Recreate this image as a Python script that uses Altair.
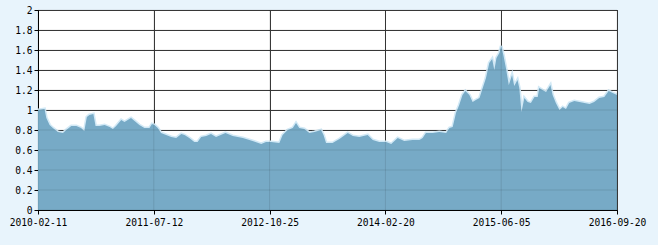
import altair as alt
import pandas as pd

# trading-day index and value
day_index = [0, 18, 23, 32, 41, 55, 69, 78, 92, 106, 119, 128, 135, 142, 153, 159, 170, 184, 198, 207,
             216, 230, 239, 248, 257, 267, 280, 294, 308, 315, 322, 331, 340, 354, 368, 382, 396, 405, 418, 432,
             441, 451, 465, 478, 492, 518, 538, 566, 593, 617, 630, 644, 667, 676, 690, 704, 713, 722, 736, 750,
             764, 782, 789, 796, 814, 833, 856, 870, 888, 911, 925, 943, 962, 976, 994, 1012, 1035, 1054, 1063, 1072,
             1091, 1109, 1128, 1137, 1146, 1155, 1164, 1173, 1181, 1192, 1201, 1210, 1220, 1229, 1238, 1247, 1255, 1261, 1267, 1275,
             1280, 1286, 1293, 1301, 1310, 1316, 1325, 1330, 1336, 1344, 1353, 1362, 1372, 1381, 1385, 1394, 1404, 1416, 1422, 1431,
             1441, 1450, 1459, 1468, 1482, 1496, 1510, 1524, 1537, 1551, 1565, 1577, 1588, 1600]
values = [1.00, 1.01, 0.92, 0.85, 0.82, 0.78, 0.77, 0.80, 0.84, 0.84, 0.82, 0.79, 0.93, 0.95, 0.96, 0.84, 0.84, 0.85, 0.83, 0.81,
          0.84, 0.90, 0.88, 0.90, 0.92, 0.89, 0.85, 0.82, 0.82, 0.86, 0.85, 0.82, 0.77, 0.75, 0.73, 0.72, 0.76, 0.75, 0.72, 0.68,
          0.68, 0.73, 0.74, 0.76, 0.73, 0.77, 0.74, 0.72, 0.69, 0.66, 0.68, 0.68, 0.67, 0.75, 0.80, 0.82, 0.87, 0.82, 0.81, 0.77,
          0.78, 0.80, 0.75, 0.67, 0.67, 0.71, 0.77, 0.74, 0.73, 0.75, 0.70, 0.68, 0.68, 0.66, 0.72, 0.69, 0.70, 0.70, 0.72, 0.77,
          0.77, 0.78, 0.77, 0.82, 0.83, 0.97, 1.05, 1.15, 1.19, 1.15, 1.08, 1.10, 1.12, 1.22, 1.32, 1.47, 1.51, 1.40, 1.52, 1.57,
          1.64, 1.55, 1.42, 1.25, 1.35, 1.24, 1.30, 1.22, 0.98, 1.12, 1.08, 1.07, 1.13, 1.13, 1.22, 1.20, 1.18, 1.25, 1.15, 1.07,
          1.00, 1.03, 1.01, 1.07, 1.09, 1.08, 1.07, 1.06, 1.08, 1.12, 1.13, 1.19, 1.17, 1.15]

x_tick_index = [0, 320, 640, 960, 1280, 1600]
x_tick_labels = ["2010-02-11", "2011-07-12", "2012-10-25", "2014-02-20", "2015-06-05", "2016-09-20"]
y_ticks = [0, 0.2, 0.4, 0.6, 0.8, 1, 1.2, 1.4, 1.6, 1.8, 2]
y_tick_labels = ["0", "0.2", "0.4", "0.6", "0.8", "1", "1.2", "1.4", "1.6", "1.8", "2"]

df = pd.DataFrame({"i": day_index, "v": values})
xgrid = pd.DataFrame({"i": x_tick_index})
ygrid = pd.DataFrame({"v": y_ticks})

label_map = "{" + ",".join(f"'{k}':'{v}'" for k, v in zip(x_tick_index, x_tick_labels)) + "}"
ylabel_map = "{" + ",".join(f"'{k}':'{v}'" for k, v in zip(y_ticks, y_tick_labels)) + "}"

xscale = alt.Scale(domain=[0, 1600], nice=False, zero=False)
yscale = alt.Scale(domain=[0, 2], nice=False)

FONT = "DejaVu Sans Mono"

xaxis = alt.Axis(values=x_tick_index, labelExpr=f"{label_map}[datum.value]", title=None,
                 grid=True, gridColor="#3a3a3a", gridWidth=1, domainColor="#000", tickColor="#000",
                 tickSize=4, labelPadding=3, labelFont=FONT, labelFontSize=9.6, labelColor="#000",
                 labelFlush=False, labelOverlap=False, tickCount=20)
yaxis = alt.Axis(values=y_ticks, labelExpr=f"{ylabel_map}[datum.value]", title=None,
                 grid=True, gridColor="#3a3a3a", gridWidth=1, domainColor="#000", tickColor="#000",
                 tickSize=4, labelPadding=2, labelFont=FONT, labelFontSize=9.6, labelColor="#000",
                 labelOverlap=False, tickCount=20)

base = alt.Chart(df)

edge = base.mark_line(color="#d2e9f6", strokeWidth=3, clip=True).encode(
    x=alt.X("i:Q", scale=xscale, axis=xaxis),
    y=alt.Y("v:Q", scale=yscale, axis=yaxis),
)
area = base.mark_area(color="#77aac6", opacity=1, clip=True).encode(
    x=alt.X("i:Q", scale=xscale, axis=xaxis),
    y=alt.Y("v:Q", scale=yscale, axis=yaxis),
)
vrules = alt.Chart(xgrid).mark_rule(color="#000", opacity=0.1, strokeWidth=1).encode(
    x=alt.X("i:Q", scale=xscale, axis=xaxis)
)
hrules = alt.Chart(ygrid).mark_rule(color="#000", opacity=0.1, strokeWidth=1).encode(
    y=alt.Y("v:Q", scale=yscale, axis=yaxis)
)

chart = alt.layer(edge, area, vrules, hrules).properties(
    width=579, height=200,
    background="#e8f4fc",
    padding={"left": 38, "top": 10, "right": 41, "bottom": 35},
    autosize=alt.AutoSizeParams(type="none"),
).configure_view(fill="#ffffff", stroke="#000000", strokeWidth=1)

chart.save("out.html", embed_options={"renderer": "svg", "actions": False})
